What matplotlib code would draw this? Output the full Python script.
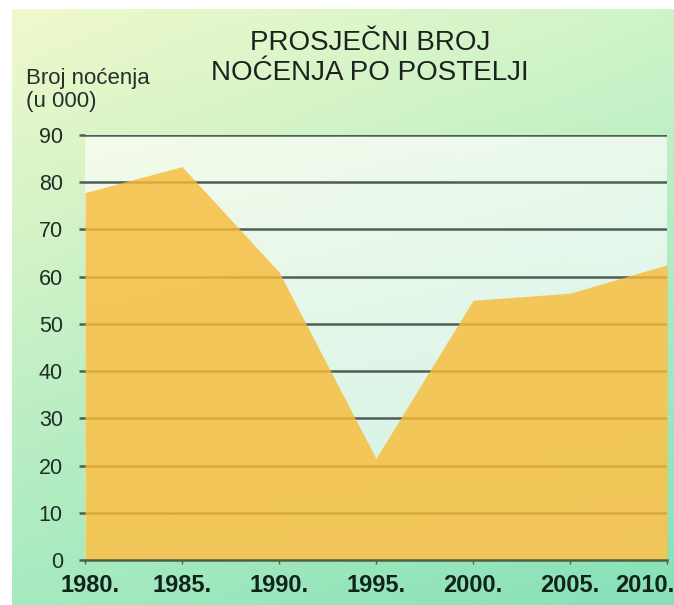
import numpy as np
from matplotlib import pyplot as plt
from matplotlib import font_manager
from matplotlib.transforms import ScaledTranslation

# podaci
godine = [1980, 1985, 1990, 1995, 2000, 2005, 2010]
nocenja = [77.8, 83.3, 61.0, 21.5, 55.0, 56.5, 62.5]
oznake_x = ['1980.', '1985.', '1990.', '1995.', '2000.', '2005.', '2010.']
oznake_y = [0, 10, 20, 30, 40, 50, 60, 70, 80, 90]

naslov = 'PROSJEČNI BROJ\nNOĆENJA PO POSTELJI'
os_y = 'Broj noćenja\n(u 000)'

imena = {f.name for f in font_manager.fontManager.ttflist}
obicni = 'Liberation Sans' if 'Liberation Sans' in imena else 'DejaVu Sans'
uski = 'Liberation Sans Narrow' if 'Liberation Sans Narrow' in imena else obicni

W, H = 674, 605
fig = plt.figure(figsize=(W / 100, H / 100), dpi=100)
fig.patch.set_facecolor('white')


def gradijent(tl, tr, bl, br, n=200):
    tl, tr, bl, br = [np.array(c) / 255 for c in (tl, tr, bl, br)]
    u = np.linspace(0, 1, n)[None, :, None]
    v = np.linspace(0, 1, n)[:, None, None]
    gore = tl * (1 - u) + tr * u
    dolje = bl * (1 - u) + br * u
    return gore * (1 - v) + dolje * v


# pozadina ploce
bg = fig.add_axes([12 / W, 0, 1 - 12 / W, 1 - 9 / H], zorder=0)
bg.imshow(gradijent((240, 249, 204), (206, 244, 200), (166, 234, 192), (134, 224, 184)),
          aspect='auto', extent=(0, 1, 0, 1), interpolation='bicubic')
bg.set_axis_off()

x0, x1 = 85, 667
y0, y1 = 560, 135
ax = fig.add_axes([x0 / W, 1 - y0 / H, (x1 - x0) / W, (y0 - y1) / H], zorder=1)
ax.set_xlim(1980, 2010)
ax.set_ylim(0, 90)
ax.imshow(gradijent((244, 251, 234), (234, 249, 236), (214, 243, 230), (208, 242, 230)),
          aspect='auto', extent=(1980, 2010, 0, 90), interpolation='bicubic', zorder=0)

for v in oznake_y[1:]:
    ax.axhline(v, color='#4e5e54', lw=1.8, zorder=1)
ax.fill_between(godine, nocenja, 0, color='#f8bc3a', alpha=0.82, lw=0, zorder=2)

for s in ['top', 'right', 'left']:
    ax.spines[s].set_visible(False)
ax.spines['bottom'].set_color('#4f6040')
ax.spines['bottom'].set_linewidth(1.8)
ax.spines['bottom'].set_zorder(3)

ax.set_yticks(oznake_y)
ax.set_yticklabels([str(v) for v in oznake_y], fontsize=15.5, family=obicni, color='#1f2e25')
ax.tick_params(axis='y', length=4, width=1.8, color='#4e5e54', pad=12)

ax.set_xticks(godine)
ax.set_xticklabels(oznake_x, fontsize=17, family=uski, fontweight='bold', color='#11241a')
ax.tick_params(axis='x', length=3, width=1, color='#4f6040', pad=7)
lab = ax.get_xticklabels()
lab[0].set_transform(lab[0].get_transform() + ScaledTranslation(5 / 100, 0, fig.dpi_scale_trans))
lab[-1].set_transform(lab[-1].get_transform() + ScaledTranslation(-22 / 100, 0, fig.dpi_scale_trans))

fig.text(370 / W, 1 - 58 / H, naslov, ha='center', va='center', fontsize=20,
         family=obicni, color='#1c221d', linespacing=1.15)
fig.text(26 / W, 1 - 90 / H, os_y, ha='left', va='center', fontsize=16,
         family=obicni, color='#25302a', linespacing=1.1)

fig.savefig('out.png', dpi=100)
